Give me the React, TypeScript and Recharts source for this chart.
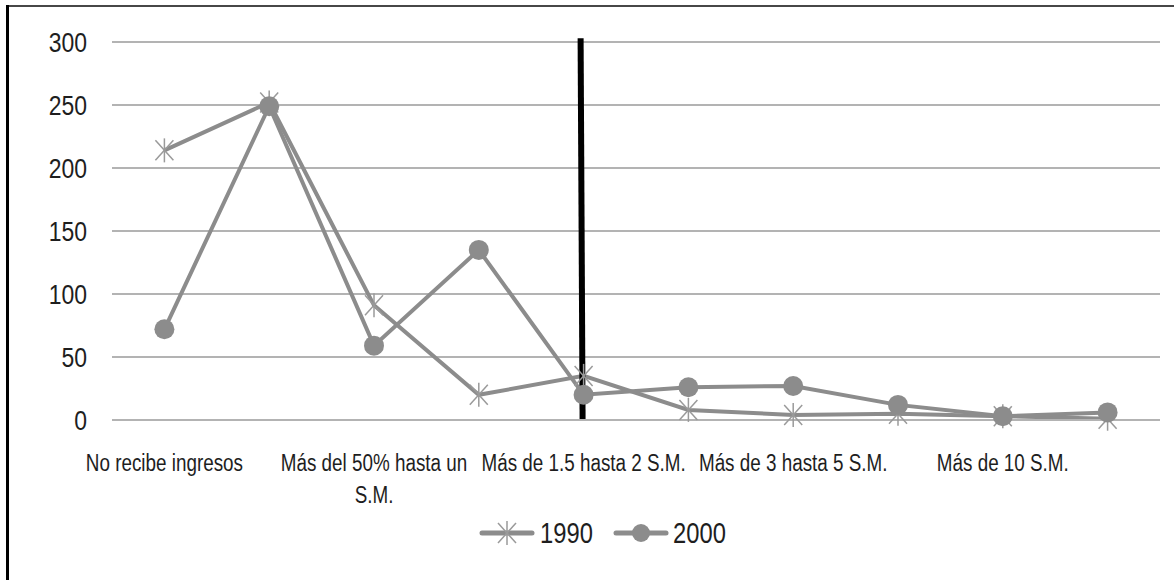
import React from 'react';
import { LineChart, Line, XAxis, YAxis, CartesianGrid, ReferenceLine, Legend } from 'recharts';

const categories = [
  'No recibe ingresos',
  'Hasta 50% de un S.M.',
  'Más del 50% hasta un S.M.',
  'Más de 1 hasta 1.5 S.M.',
  'Más de 1.5 hasta 2 S.M.',
  'Más de 2 hasta 3 S.M.',
  'Más de 3 hasta 5 S.M.',
  'Más de 5 hasta 10 S.M.',
  'Más de 10 S.M.',
  'No especificado',
];
const values1990 = [214, 252, 91, 20, 35, 8, 4, 5, 3, 1];
const values2000 = [72, 249, 59, 135, 20, 26, 27, 12, 3, 6];
const yTicks = [0, 50, 100, 150, 200, 250, 300];
const seriesNames = ['1990', '2000'];
const markerCategory = categories[4];
const markerTop = 303;

const data = categories.map((c, i) => ({ cat: c, s1990: values1990[i], s2000: values2000[i] }));

const FONT = "'Liberation Sans', Arial, sans-serif";
const SQUEEZE = 0.82;
const LINE = '#8c8c8c';
const TEXT = '#1e1e1e';

let measureCtx: CanvasRenderingContext2D | null = null;
function measure(text: string, size: number): number {
  if (!measureCtx) {
    const c = document.createElement('canvas');
    measureCtx = c.getContext('2d');
  }
  if (!measureCtx) return text.length * size * 0.5;
  measureCtx.font = `${size}px "Liberation Sans"`;
  return measureCtx.measureText(text).width * SQUEEZE;
}

function wrap(text: string, size: number, maxWidth: number): string[] {
  const words = text.split(' ');
  const lines: string[] = [];
  let cur = '';
  words.forEach((w) => {
    const cand = cur ? cur + ' ' + w : w;
    if (cur && measure(cand, size) > maxWidth) {
      lines.push(cur);
      cur = w;
    } else {
      cur = cand;
    }
  });
  if (cur) lines.push(cur);
  return lines;
}

const StarDot = (props: any) => {
  const { cx, cy } = props;
  if (cx == null || cy == null) return null;
  return (
    <g stroke="#9a9a9a" strokeWidth={1.5}>
      <line x1={cx} y1={cy - 12} x2={cx} y2={cy + 12} />
      <line x1={cx - 9} y1={cy - 10} x2={cx + 9} y2={cy + 10} />
      <line x1={cx - 9} y1={cy + 10} x2={cx + 9} y2={cy - 10} />
    </g>
  );
};

const CircleDot = (props: any) => {
  const { cx, cy } = props;
  if (cx == null || cy == null) return null;
  return <circle cx={cx} cy={cy} r={10} fill={LINE} stroke="none" />;
};

const XTick = (props: any) => {
  const { x, y, payload } = props;
  const size = 23;
  const lines = wrap(String(payload.value), size, 212);
  return (
    <g transform={`translate(${x},${y + 27 + size * 0.71}) scale(${SQUEEZE},1)`}>
      <text textAnchor="middle" fill={TEXT} fontFamily={FONT} fontSize={size}>
        {lines.map((l, i) => (
          <tspan key={i} x={0} dy={i === 0 ? 0 : 32}>
            {l}
          </tspan>
        ))}
      </text>
    </g>
  );
};

const YTick = (props: any) => {
  const { x, y, payload } = props;
  return (
    <g transform={`translate(${x},${y}) scale(${SQUEEZE},1)`}>
      <text textAnchor="end" dy="0.355em" fill={TEXT} fontFamily={FONT} fontSize={28}>
        {payload.value}
      </text>
    </g>
  );
};

const LEGEND_H = 44;

const LegendContent = () => {
  const items = [
    { name: seriesNames[0], iconX: 480, textX: 540, star: true },
    { name: seriesNames[1], iconX: 614, textX: 673, star: false },
  ];
  const cy = LEGEND_H / 2;
  return (
    <svg width={1174} height={LEGEND_H} style={{ display: 'block', overflow: 'visible' }}>
      {items.map((it) => (
        <g key={it.name}>
          <line x1={it.iconX + 2} y1={cy} x2={it.iconX + 52} y2={cy} stroke={LINE} strokeWidth={5} strokeLinecap="round" />
          {it.star ? <StarDot cx={it.iconX + 27} cy={cy} /> : <circle cx={it.iconX + 27} cy={cy} r={9} fill={LINE} />}
          <g transform={`translate(${it.textX},${cy}) scale(${SQUEEZE},1)`}>
            <text dy="0.355em" fill={TEXT} fontFamily={FONT} fontSize={29}>
              {it.name}
            </text>
          </g>
        </g>
      ))}
    </svg>
  );
};

export default function App() {
  return (
    <div style={{ position: 'absolute', left: 0, top: 0, width: 1174, height: 580, background: '#fff', overflow: 'hidden' }}>
      <div style={{ position: 'absolute', left: 6, top: 5, width: 1168, height: 2, background: '#474747' }} />
      <div style={{ position: 'absolute', left: 6, top: 5, width: 3, height: 575, background: '#000' }} />
      <div style={{ position: 'absolute', left: 0, top: 0 }}>
        <LineChart width={1174} height={580} data={data} margin={{ top: 42, right: 14, left: 0, bottom: 25 }}>
          <CartesianGrid vertical={false} stroke="#b3b3b3" strokeWidth={2} />
          <XAxis
            dataKey="cat"
            interval={1}
            height={91}
            padding={{ left: 52.4, right: 52.4 }}
            tickLine={false}
            axisLine={{ stroke: '#b3b3b3', strokeWidth: 2 }}
            tick={<XTick />}
          />
          <YAxis
            domain={[0, 300]}
            ticks={yTicks}
            width={112}
            axisLine={false}
            tickLine={false}
            tickMargin={19}
            tick={<YTick />}
          />
          <Legend verticalAlign="bottom" align="center" content={<LegendContent />} />
          <Line
            type="linear"
            dataKey="s1990"
            name={seriesNames[0]}
            stroke={LINE}
            strokeWidth={4}
            dot={<StarDot />}
            activeDot={false}
            isAnimationActive={false}
          />
          <Line
            type="linear"
            dataKey="s2000"
            name={seriesNames[1]}
            stroke={LINE}
            strokeWidth={4}
            dot={<CircleDot />}
            activeDot={false}
            isAnimationActive={false}
          />
          <ReferenceLine
            segment={[
              { x: markerCategory, y: 0 },
              { x: markerCategory, y: markerTop },
            ]}
            ifOverflow="visible"
            stroke="#000"
            strokeWidth={6}
            shape={(p: any) => (
              <line x1={p.x1 - 1} y1={p.y1} x2={p.x2 - 3} y2={p.y2} stroke="#000" strokeWidth={6} />
            )}
          />
        </LineChart>
      </div>
    </div>
  );
}
